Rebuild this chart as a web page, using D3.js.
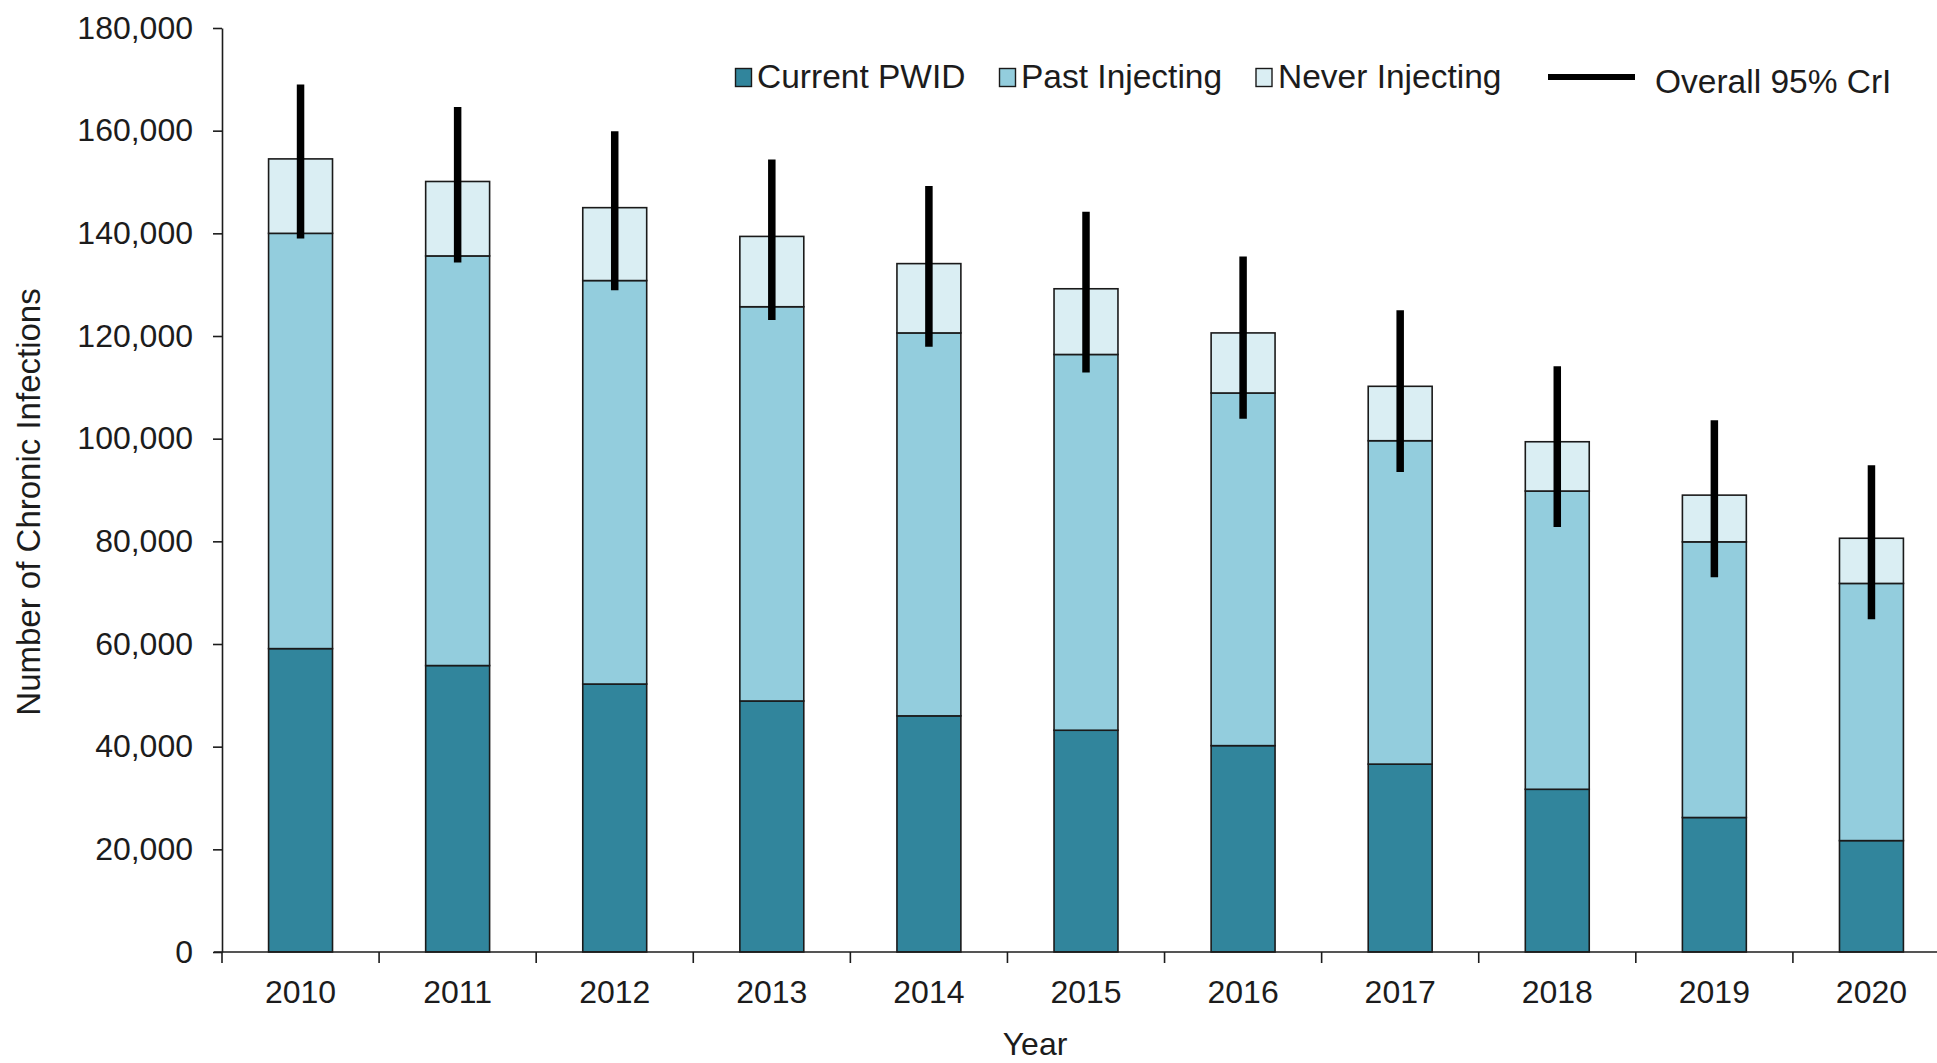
<!DOCTYPE html>
<html>
<head>
<meta charset="utf-8">
<script src="https://cdn.jsdelivr.net/npm/d3@7"></script>
<style>
  html, body { margin: 0; padding: 0; background: #ffffff; }
  svg { display: block; }
  text { font-family: "Liberation Sans", Arial, Helvetica, sans-serif; fill: #1c1c1c; }
</style>
</head>
<body>
<svg id="chart" width="1937" height="1063"></svg>
<script>
// Estimated chronic infections by injecting status, 2010–2020
const years = ["2010", "2011", "2012", "2013", "2014", "2015", "2016", "2017", "2018", "2019", "2020"];
const currentPWID    = [59100, 55800, 52200, 48900, 46000, 43200, 40200, 36600, 31700, 26200, 21700];
const pastInjecting  = [80900, 79800, 78600, 76800, 74600, 73200, 68700, 63000, 58100, 53700, 50100];
const neverInjecting = [14500, 14500, 14200, 13700, 13500, 12800, 11700, 10600,  9600,  9100,  8800];
// Overall 95% credible interval
const criLower = [139000, 134300, 128900, 123100, 117900, 112900, 103900, 93500, 82800, 73000, 64800];
const criUpper = [169000, 164600, 159900, 154400, 149200, 144200, 135500, 125000, 114100, 103600, 94800];
const yTickValues = [0, 20000, 40000, 60000, 80000, 100000, 120000, 140000, 160000, 180000];
const seriesKeys = ["Current PWID", "Past Injecting", "Never Injecting"];
const errorLabel = "Overall 95% CrI";
const xTitle = "Year";
const yTitle = "Number of Chronic Infections";

const colors = { "Current PWID": "#31859C", "Past Injecting": "#93CDDD", "Never Injecting": "#DAEEF3" };

const rows = years.map((yr, i) => ({
  year: yr,
  "Current PWID": currentPWID[i],
  "Past Injecting": pastInjecting[i],
  "Never Injecting": neverInjecting[i],
  lo: criLower[i],
  hi: criUpper[i]
}));

const svg = d3.select("#chart");
const plot = { left: 222, right: 1950, top: 28, bottom: 952 };

const x = d3.scaleBand()
  .domain(years)
  .range([plot.left, plot.right])
  .paddingInner(0.593)
  .paddingOuter(0.2965);

const y = d3.scaleLinear()
  .domain([0, 180000])
  .range([plot.bottom, plot.top]);

// Stacked bars
const stacked = d3.stack().keys(seriesKeys)(rows);
svg.append("g")
  .selectAll("g")
  .data(stacked)
  .join("g")
    .attr("fill", d => colors[d.key])
  .selectAll("rect")
  .data(d => d)
  .join("rect")
    .attr("x", d => x(d.data.year))
    .attr("y", d => y(d[1]))
    .attr("width", x.bandwidth())
    .attr("height", d => y(d[0]) - y(d[1]))
    .attr("stroke", "#1a1a1a")
    .attr("stroke-width", 1.6);

// Credible-interval bars
svg.append("g")
  .selectAll("line")
  .data(rows)
  .join("line")
    .attr("x1", d => x(d.year) + x.bandwidth() / 2)
    .attr("x2", d => x(d.year) + x.bandwidth() / 2)
    .attr("y1", d => y(d.lo))
    .attr("y2", d => y(d.hi))
    .attr("stroke", "#000")
    .attr("stroke-width", 7.5);

// Y axis
const yAxis = svg.append("g")
  .attr("transform", `translate(${plot.left},0)`)
  .call(d3.axisLeft(y)
    .tickValues(yTickValues)
    .tickFormat(d3.format(","))
    .tickSize(9)
    .tickSizeOuter(0)
    .tickPadding(20));
yAxis.selectAll("text").style("font-size", "32px").attr("fill", "#1c1c1c");
yAxis.selectAll("line, path").attr("stroke", "#1c1c1c").attr("stroke-width", 1.6);

// X axis: labels at band centres, ticks at band boundaries
const xAxis = svg.append("g")
  .attr("transform", `translate(0,${plot.bottom})`)
  .call(d3.axisBottom(x).tickSize(0).tickPadding(28));
xAxis.select(".domain").remove();
xAxis.selectAll("text").style("font-size", "32px").attr("fill", "#1c1c1c");

svg.append("line")
  .attr("x1", plot.left - 8).attr("x2", plot.right)
  .attr("y1", plot.bottom).attr("y2", plot.bottom)
  .attr("stroke", "#1c1c1c").attr("stroke-width", 1.6);

const boundaries = d3.range(years.length + 1).map(i => plot.left + i * x.step());
svg.append("g")
  .selectAll("line")
  .data(boundaries)
  .join("line")
    .attr("x1", d => d).attr("x2", d => d)
    .attr("y1", plot.bottom).attr("y2", plot.bottom + 11)
    .attr("stroke", "#1c1c1c").attr("stroke-width", 1.6);

// Axis titles
svg.append("text")
  .attr("x", 1035)
  .attr("y", 1055)
  .attr("text-anchor", "middle")
  .style("font-size", "32px")
  .text(xTitle);

svg.append("text")
  .attr("transform", "translate(40,502) rotate(-90)")
  .attr("text-anchor", "middle")
  .style("font-size", "33px")
  .text(yTitle);

// Legend
const legendItems = [
  { key: "Current PWID", sx: 735.5, tx: 757 },
  { key: "Past Injecting", sx: 999.5, tx: 1021 },
  { key: "Never Injecting", sx: 1256, tx: 1278 }
];
const legend = svg.append("g");
legend.selectAll("rect")
  .data(legendItems)
  .join("rect")
    .attr("x", d => d.sx)
    .attr("y", 68.5)
    .attr("width", 16)
    .attr("height", 18)
    .attr("fill", d => colors[d.key])
    .attr("stroke", "#1a1a1a")
    .attr("stroke-width", 1.4);
legend.selectAll("text.series")
  .data(legendItems)
  .join("text")
    .attr("class", "series")
    .attr("x", d => d.tx)
    .attr("y", 88)
    .style("font-size", "33.5px")
    .text(d => d.key);

legend.append("line")
  .attr("x1", 1548).attr("x2", 1635)
  .attr("y1", 77).attr("y2", 77)
  .attr("stroke", "#000").attr("stroke-width", 6);
legend.append("text")
  .attr("x", 1655)
  .attr("y", 93)
  .style("font-size", "33.5px")
  .text(errorLabel);
</script>
</body>
</html>
